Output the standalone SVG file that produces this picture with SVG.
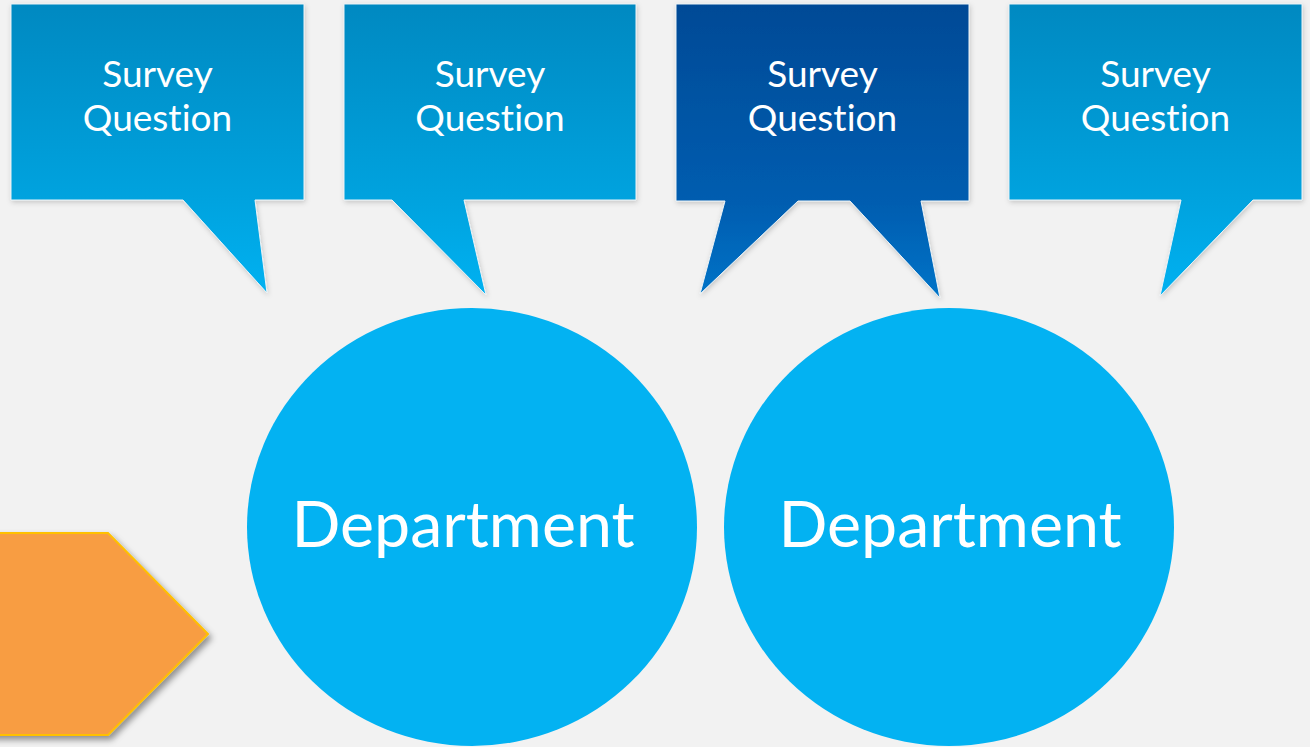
<svg xmlns="http://www.w3.org/2000/svg" width="1310" height="747" viewBox="0 0 1310 747">
  <defs>
    <linearGradient id="gradLight" x1="0" y1="0" x2="0" y2="1">
      <stop offset="0" stop-color="#0089C1"/>
      <stop offset="0.68" stop-color="#00A3DF"/>
      <stop offset="1" stop-color="#00B1F1"/>
    </linearGradient>
    <linearGradient id="gradDark" x1="0" y1="0" x2="0" y2="1">
      <stop offset="0" stop-color="#014A96"/>
      <stop offset="0.68" stop-color="#005DB0"/>
      <stop offset="1" stop-color="#0074C8"/>
    </linearGradient>
    <filter id="softShadow" x="-10%" y="-10%" width="120%" height="120%">
      <feDropShadow dx="1" dy="2" stdDeviation="2.5" flood-color="#000" flood-opacity="0.18"/>
    </filter>
    <filter id="hexShadow" x="-10%" y="-10%" width="130%" height="130%">
      <feDropShadow dx="3" dy="4" stdDeviation="3" flood-color="#000" flood-opacity="0.4"/>
    </filter>
  </defs>
  <style>
    .bubble { stroke: #EAF2F6; stroke-width: 1; filter: url(#softShadow); }
    .light { fill: url(#gradLight); }
    .dark { fill: url(#gradDark); }
    .q { font-family: Lato, "Open Sans", sans-serif; font-size: 37px; fill: #FFFFFF; text-anchor: middle; font-variant-ligatures: none; }
    .dept { fill: #03B2F2; }
    .deptText { font-family: Lato, "Open Sans", sans-serif; font-size: 64.5px; fill: #FFFFFF; text-anchor: middle; font-variant-ligatures: none; }
    .hex { fill: #F89D43; stroke: #FFC000; stroke-width: 2; filter: url(#hexShadow); }
  </style>

  <rect width="1310" height="747" fill="#F2F2F2"/>

  <!-- pointer shape, partly off the left edge -->
  <g id="pointer">
    <path class="hex" d="M-20,533 H108 L208,634 L108,735 H-20 Z"/>
  </g>

  <!-- speech-bubble questions -->
  <g id="question1">
    <path class="bubble light" d="M11,4 H304 V200 H255 L267,293 L183,200 H11 Z"/>
    <text class="q" x="157.5" y="87">Survey</text>
    <text class="q" x="157.5" y="131">Question</text>
  </g>
  <g id="question2">
    <path class="bubble light" d="M344,4 H636 V200 H464 L486,295 L392,200 H344 Z"/>
    <text class="q" x="490" y="87">Survey</text>
    <text class="q" x="490" y="131">Question</text>
  </g>
  <g id="question3">
    <path class="bubble dark" d="M676,4 H969 V201 H921 L940,298 L850,201 H798 L700,294 L725,201 H676 Z"/>
    <text class="q" x="822.5" y="87">Survey</text>
    <text class="q" x="822.5" y="131">Question</text>
  </g>
  <g id="question4">
    <path class="bubble light" d="M1009,4 H1302 V200 H1253 L1160,296 L1181,200 H1009 Z"/>
    <text class="q" x="1155.5" y="87">Survey</text>
    <text class="q" x="1155.5" y="131">Question</text>
  </g>

  <!-- departments -->
  <g id="department1">
    <ellipse class="dept" cx="472" cy="527" rx="225" ry="219"/>
    <text class="deptText" x="463" y="547">Department</text>
  </g>
  <g id="department2">
    <ellipse class="dept" cx="949" cy="527" rx="225" ry="219"/>
    <text class="deptText" x="950" y="547">Department</text>
  </g>

  <g id="connectors"></g>
</svg>
